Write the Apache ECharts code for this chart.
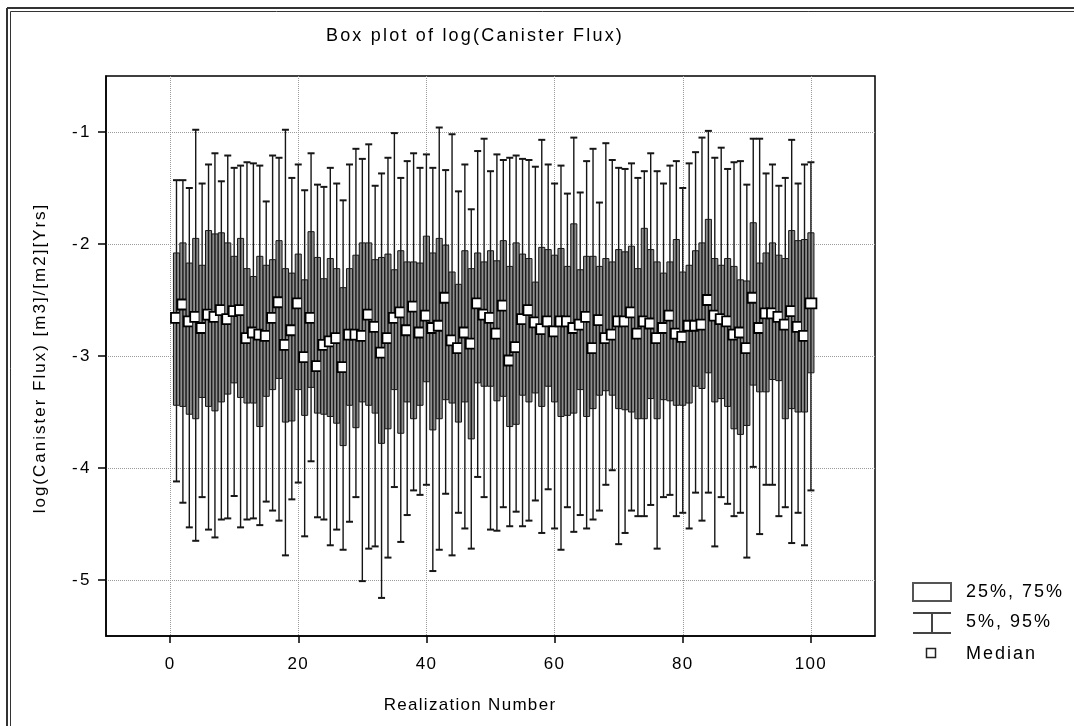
<!DOCTYPE html>
<html>
<head>
<meta charset="utf-8">
<script src="https://cdn.jsdelivr.net/npm/echarts@6/dist/echarts.min.js"></script>
<style>
html,body{margin:0;padding:0;background:#ffffff;}
#chart{width:1074px;height:726px;}
</style>
</head>
<body>
<div id="chart"></div>
<script>
// ---------------- DATA ----------------
const realization = [
  1,2,3,4,5,6,7,8,9,10,11,12,13,14,15,16,17,18,19,20,
  21,22,23,24,25,26,27,28,29,30,31,32,33,34,35,36,37,38,39,40,
  41,42,43,44,45,46,47,48,49,50,51,52,53,54,55,56,57,58,59,60,
  61,62,63,64,65,66,67,68,69,70,71,72,73,74,75,76,77,78,79,80,
  81,82,83,84,85,86,87,88,89,90,91,92,93,94,95,96,97,98,99,100
];
// 5th percentile (lower whisker)
const p5 = [
  -4.12,-4.31,-4.53,-4.65,-4.26,-4.55,-4.62,-4.46,-4.45,-4.25,
  -4.53,-4.46,-4.45,-4.51,-4.30,-4.38,-4.47,-4.78,-4.28,-4.13,
  -4.61,-3.94,-4.44,-4.46,-4.69,-4.55,-4.73,-4.48,-4.26,-5.01,
  -4.72,-4.70,-5.16,-4.80,-4.17,-4.66,-4.42,-4.20,-4.24,-4.15,
  -4.92,-4.73,-4.23,-4.78,-4.40,-4.54,-4.72,-4.08,-4.26,-4.55,
  -4.56,-4.35,-4.52,-4.39,-4.52,-4.47,-4.29,-4.58,-4.19,-4.54,
  -4.73,-4.35,-4.57,-4.42,-4.54,-4.46,-4.38,-4.15,-4.02,-4.68,
  -4.58,-4.38,-4.43,-4.43,-4.33,-4.72,-4.26,-4.24,-4.43,-4.40,
  -4.54,-4.22,-4.47,-4.22,-4.70,-4.26,-4.32,-4.43,-4.40,-4.80,
  -3.99,-4.59,-4.15,-4.15,-4.43,-4.35,-4.67,-4.40,-4.69,-4.20
];
// 25th percentile (box bottom)
const p25 = [
  -3.44,-3.45,-3.52,-3.56,-3.37,-3.45,-3.49,-3.41,-3.34,-3.24,
  -3.37,-3.42,-3.42,-3.63,-3.36,-3.30,-3.20,-3.59,-3.58,-3.30,
  -3.53,-3.28,-3.51,-3.52,-3.54,-3.60,-3.80,-3.44,-3.64,-3.41,
  -3.44,-3.51,-3.78,-3.65,-3.30,-3.69,-3.41,-3.56,-3.44,-3.23,
  -3.66,-3.56,-3.39,-3.42,-3.59,-3.41,-3.74,-3.24,-3.27,-3.27,
  -3.40,-3.36,-3.63,-3.61,-3.35,-3.41,-3.33,-3.45,-3.27,-3.41,
  -3.54,-3.53,-3.51,-3.30,-3.54,-3.47,-3.35,-3.31,-3.35,-3.47,
  -3.48,-3.50,-3.56,-3.56,-3.38,-3.56,-3.39,-3.40,-3.44,-3.44,
  -3.42,-3.27,-3.29,-3.15,-3.41,-3.38,-3.45,-3.65,-3.70,-3.62,
  -3.26,-3.32,-3.32,-3.21,-3.22,-3.56,-3.47,-3.50,-3.50,-3.15
];
// median
const median = [
  -2.66,-2.54,-2.69,-2.65,-2.75,-2.63,-2.65,-2.59,-2.67,-2.60,
  -2.59,-2.84,-2.79,-2.81,-2.82,-2.66,-2.52,-2.90,-2.77,-2.53,
  -3.01,-2.66,-3.09,-2.90,-2.87,-2.84,-3.10,-2.81,-2.81,-2.82,
  -2.63,-2.74,-2.97,-2.84,-2.66,-2.61,-2.77,-2.56,-2.79,-2.64,
  -2.75,-2.73,-2.48,-2.86,-2.93,-2.79,-2.89,-2.53,-2.63,-2.66,
  -2.80,-2.55,-3.04,-2.92,-2.67,-2.59,-2.70,-2.76,-2.69,-2.78,
  -2.69,-2.69,-2.75,-2.72,-2.65,-2.93,-2.68,-2.84,-2.81,-2.69,
  -2.69,-2.61,-2.80,-2.69,-2.71,-2.84,-2.75,-2.64,-2.80,-2.83,
  -2.73,-2.73,-2.72,-2.50,-2.64,-2.67,-2.69,-2.81,-2.79,-2.93,
  -2.48,-2.75,-2.62,-2.62,-2.65,-2.72,-2.60,-2.74,-2.82,-2.53
];
// 75th percentile (box top)
const p75 = [
  -2.08,-1.99,-2.17,-1.95,-2.19,-1.88,-1.91,-1.90,-1.99,-2.11,
  -1.95,-2.22,-2.29,-2.11,-2.19,-2.14,-1.97,-2.22,-2.26,-2.09,
  -2.32,-1.89,-2.12,-2.31,-2.13,-2.22,-2.39,-2.22,-2.10,-1.99,
  -1.99,-2.14,-2.12,-2.09,-2.23,-2.06,-2.16,-2.16,-2.17,-1.93,
  -2.08,-1.95,-2.01,-2.25,-2.36,-2.06,-2.22,-2.08,-2.16,-2.06,
  -2.15,-1.97,-2.20,-1.99,-2.09,-2.13,-2.34,-2.03,-2.05,-2.10,
  -2.04,-2.20,-1.82,-2.23,-2.11,-2.11,-2.20,-2.13,-2.16,-2.05,
  -2.07,-2.02,-2.22,-1.86,-2.05,-2.16,-2.26,-2.16,-1.96,-2.25,
  -2.19,-2.06,-1.99,-1.78,-2.13,-2.19,-2.13,-2.20,-2.32,-2.33,
  -1.81,-2.17,-2.08,-1.99,-2.10,-2.13,-1.88,-1.97,-1.96,-1.90
];
// 95th percentile (upper whisker)
const p95 = [
  -1.43,-1.43,-1.50,-0.98,-1.46,-1.29,-1.19,-1.44,-1.21,-1.32,
  -1.30,-1.27,-1.28,-1.30,-1.62,-1.21,-1.23,-0.98,-1.41,-1.29,
  -1.52,-1.19,-1.47,-1.49,-1.32,-1.46,-1.61,-1.29,-1.15,-1.24,
  -1.11,-1.48,-1.37,-1.23,-1.01,-1.41,-1.26,-1.19,-1.32,-1.20,
  -1.32,-0.96,-1.34,-1.02,-1.53,-1.29,-1.69,-1.17,-1.06,-1.35,
  -1.20,-1.25,-1.23,-1.21,-1.24,-1.25,-1.31,-1.07,-1.29,-1.46,
  -1.30,-1.55,-1.05,-1.54,-1.26,-1.15,-1.63,-1.10,-1.25,-1.32,
  -1.33,-1.28,-1.41,-1.35,-1.19,-1.35,-1.46,-1.30,-1.26,-1.50,
  -1.28,-1.18,-1.05,-0.99,-1.23,-1.14,-1.33,-1.27,-1.26,-1.47,
  -1.06,-1.06,-1.37,-1.29,-1.48,-1.41,-1.07,-1.46,-1.29,-1.27
];
const xTicks = [0, 20, 40, 60, 80, 100];
const yTicks = [-5, -4, -3, -2, -1];
const legendLabels = ['25%, 75%', '5%, 95%', 'Median'];
const chartTitle = 'Box plot of log(Canister Flux)';
const xTitle = 'Realization Number';
const yTitle = 'log(Canister Flux) [m3]/[m2][Yrs]';

// ---------------- TEXT TRACKING (the reference uses widely spaced letters) ----------------
const TRACKING = {};
TRACKING[chartTitle] = '2.2px';
TRACKING[xTitle] = '1.3px';
TRACKING[yTitle] = '2px';
legendLabels.forEach(function (t) { TRACKING[t] = '2px'; });
yTicks.forEach(function (v) { TRACKING[String(v)] = '2.5px'; });
(function () {
  const proto = CanvasRenderingContext2D.prototype;
  if (!('letterSpacing' in proto)) return;
  const orig = proto.fillText;
  proto.fillText = function (t) {
    const ls = TRACKING[t];
    if (!ls) return orig.apply(this, arguments);
    const prev = this.letterSpacing;
    this.letterSpacing = ls;
    const r = orig.apply(this, arguments);
    this.letterSpacing = prev;
    return r;
  };
})();

// ---------------- CHART ----------------
const FONT = '"Liberation Sans", Arial, sans-serif';
const INK = '#161616';
const data = realization.map((r, i) => [r, p5[i], p25[i], median[i], p75[i], p95[i]]);

function renderItem(params, api) {
  const x = api.value(0);
  const top = api.coord([x, api.value(5)]);
  const bot = api.coord([x, api.value(1)]);
  const q3 = api.coord([x, api.value(4)]);
  const q1 = api.coord([x, api.value(2)]);
  const m = api.coord([x, api.value(3)]);
  const unit = api.size([1, 0])[0];
  const boxW = unit * 0.95;
  const capW = 7;
  const cx = top[0];
  return {
    type: 'group',
    children: [
      { type: 'rect', shape: { x: cx - boxW / 2, y: q3[1], width: boxW, height: q1[1] - q3[1] },
        style: { fill: '#8e8e8e', stroke: INK, lineWidth: 1 } },
      { type: 'line', shape: { x1: cx, y1: top[1], x2: cx, y2: bot[1] },
        style: { stroke: INK, lineWidth: 1.4 } },
      { type: 'line', shape: { x1: cx - capW / 2, y1: top[1], x2: cx + capW / 2, y2: top[1] },
        style: { stroke: INK, lineWidth: 2 } },
      { type: 'line', shape: { x1: cx - capW / 2, y1: bot[1], x2: cx + capW / 2, y2: bot[1] },
        style: { stroke: INK, lineWidth: 2 } },
      { type: 'rect', shape: { x: m[0] - 5.5, y: m[1] - 5, width: 11, height: 10 },
        style: { fill: '#ffffff', stroke: '#000000', lineWidth: 1.8 } }
    ]
  };
}

const chart = echarts.init(document.getElementById('chart'), null, { renderer: 'canvas' });

const lx = 913, tx = 966;
const option = {
  backgroundColor: '#ffffff',
  animation: false,
  title: {
    text: chartTitle,
    left: 470, top: 22, textAlign: 'center',
    textStyle: { fontFamily: FONT, fontSize: 18, fontWeight: 'normal', color: '#000' }
  },
  grid: {
    left: 106, top: 76, width: 769, height: 560,
    show: true, borderColor: '#000', borderWidth: 1.5, backgroundColor: 'transparent'
  },
  xAxis: {
    type: 'value', min: -10, max: 110,
    axisLine: { show: true, onZero: false, lineStyle: { color: '#000', width: 1.5 } },
    axisTick: { show: true, length: 7, customValues: xTicks, lineStyle: { color: '#000', width: 1.5 } },
    axisLabel: { customValues: xTicks, margin: 20, fontFamily: FONT, fontSize: 17, color: '#000' },
    splitLine: { show: true, lineStyle: { color: '#9a9a9a', type: 'dotted', width: 1 } }
  },
  yAxis: {
    type: 'value', min: -5.5, max: -0.5,
    axisLine: { show: true, onZero: false, lineStyle: { color: '#000', width: 1.5 } },
    axisTick: { show: true, length: 8, customValues: yTicks, lineStyle: { color: '#000', width: 1.5 } },
    axisLabel: { customValues: yTicks, margin: 14, fontFamily: FONT, fontSize: 17, color: '#000' },
    splitLine: { show: true, lineStyle: { color: '#9a9a9a', type: 'dotted', width: 1 } }
  },
  series: [{
    type: 'custom',
    name: 'Realizations',
    renderItem: renderItem,
    encode: { x: 0, y: [1, 2, 3, 4, 5] },
    data: data,
    clip: false
  }],
  graphic: [
    // outer double frame (left and top)
    { type: 'line', shape: { x1: 7, y1: 8, x2: 7, y2: 726 }, style: { stroke: '#333', lineWidth: 2 } },
    { type: 'line', shape: { x1: 7, y1: 8, x2: 1074, y2: 8 }, style: { stroke: '#333', lineWidth: 2 } },
    { type: 'line', shape: { x1: 10.5, y1: 11.5, x2: 10.5, y2: 726 }, style: { stroke: '#333', lineWidth: 1 } },
    { type: 'line', shape: { x1: 10.5, y1: 11.5, x2: 1074, y2: 11.5 }, style: { stroke: '#333', lineWidth: 1 } },
    // axis titles
    { type: 'text', x: 470, y: 705,
      style: { text: xTitle, font: '17px ' + FONT, fill: '#000', textAlign: 'center', textVerticalAlign: 'middle' } },
    { type: 'text', x: 40, y: 358, rotation: Math.PI / 2,
      style: { text: yTitle, font: '17px ' + FONT, fill: '#000', textAlign: 'center', textVerticalAlign: 'middle' } },
    // legend: box
    { type: 'rect', shape: { x: lx, y: 583, width: 38, height: 18 },
      style: { fill: '#fff', stroke: '#555', lineWidth: 2 } },
    { type: 'text', x: tx, y: 592,
      style: { text: legendLabels[0], font: '18px ' + FONT, fill: '#000', textVerticalAlign: 'middle' } },
    // legend: whisker
    { type: 'line', shape: { x1: lx, y1: 613, x2: lx + 38, y2: 613 }, style: { stroke: '#444', lineWidth: 2 } },
    { type: 'line', shape: { x1: lx, y1: 633, x2: lx + 38, y2: 633 }, style: { stroke: '#444', lineWidth: 2 } },
    { type: 'line', shape: { x1: lx + 19, y1: 613, x2: lx + 19, y2: 633 }, style: { stroke: '#444', lineWidth: 2 } },
    { type: 'text', x: tx, y: 622,
      style: { text: legendLabels[1], font: '18px ' + FONT, fill: '#000', textVerticalAlign: 'middle' } },
    // legend: median
    { type: 'rect', shape: { x: lx + 13.5, y: 648.5, width: 9, height: 9 },
      style: { fill: '#fff', stroke: '#222', lineWidth: 1.5 } },
    { type: 'text', x: tx, y: 654,
      style: { text: legendLabels[2], font: '18px ' + FONT, fill: '#000', textVerticalAlign: 'middle' } }
  ]
};
chart.setOption(option);
</script>
</body>
</html>
